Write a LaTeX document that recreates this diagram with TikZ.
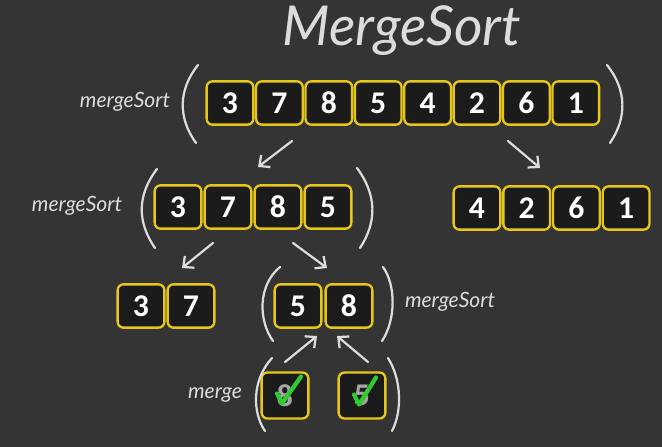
\documentclass[tikz,border=0pt]{standalone}
\usepackage{fontspec}
\usetikzlibrary{arrows.meta,calc,positioning}
\newfontfamily\digitfont{Carlito}
\newfontfamily\chalkfont{Lato}
\definecolor{board}{HTML}{343434}
\definecolor{chalk}{HTML}{DCDCDC}
\definecolor{cellfill}{HTML}{1B1B1B}
\definecolor{celledge}{HTML}{E6C619}
\definecolor{tick}{HTML}{2FCB2F}

\begin{document}
\begin{tikzpicture}[x=0.03cm,y=-0.03cm,
  cell/.style={draw=celledge,fill=cellfill,line width=2pt,rounded corners=5pt,
    minimum width=1.40cm,minimum height=1.30cm,inner sep=0pt,text=white,
    font=\digitfont\bfseries\fontsize{27}{27}\selectfont},
  chalk/.style={draw=chalk,line width=1.9pt,line cap=round},
  arr/.style={chalk,-{Straight Barb[length=7pt,width=13pt]}},
  lbl/.style={text=chalk,font=\chalkfont\itshape\fontsize{18}{18}\selectfont}]
  \fill[board] (0,0) rectangle (662,447);
  \useasboundingbox (0,0) rectangle (662,447);

  % title
  \node[anchor=base,inner sep=0pt,text=chalk,font=\chalkfont\itshape\fontsize{47}{47}\selectfont] (title) at (402,45) {MergeSort};

  % rows of cells
  \foreach \v [count=\i] in {3,7,8,5,4,2,6,1}
    \node[cell] (t\i) at ({230+49.4*(\i-1)},103) {\v};
  \foreach \v [count=\i] in {3,7,8,5}
    \node[cell] (l\i) at ({178+50*(\i-1)},207) {\v};
  \foreach \v [count=\i] in {4,2,6,1}
    \node[cell] (r\i) at ({477+49.7*(\i-1)},208) {\v};
  \node[cell] (a1) at (141,306) {3};
  \node[cell] (a2) at (191,306) {7};
  \node[cell] (b1) at (298,306) {5};
  \node[cell] (b2) at (349,306) {8};
  \node[cell,minimum height=1.38cm,text=gray!70] (m1) at (285,395.5) {8};
  \node[cell,minimum height=1.38cm,text=gray!70] (m2) at (362,395.5) {5};

  % ticks
  \draw[tick,line width=3.6pt,line cap=round,line join=round]
    ($(m1.center)+(-8,-2)$) -- ++(5,10) -- ++(19,-27);
  \draw[tick,line width=3.6pt,line cap=round,line join=round]
    ($(m2.center)+(-8,-1)$) -- ++(5,10) -- ++(17,-27);

  % brackets
  \draw[chalk] (198,65) .. controls (178,90) and (178,118) .. (196,143);
  \draw[chalk] (607,65) .. controls (627,90) and (627,118) .. (610,143);
  \draw[chalk] (157,169) .. controls (137,195) and (137,222) .. (155,248);
  \draw[chalk] (357,168) .. controls (377,195) and (377,222) .. (360,248);
  \draw[chalk] (280,267) .. controls (258,285) and (258,320) .. (273,341);
  \draw[chalk] (383,267) .. controls (396,285) and (396,320) .. (382,341);
  \draw[chalk] (272,358) .. controls (252,380) and (252,412) .. (265,431);
  \draw[chalk] (388,358) .. controls (402,380) and (402,412) .. (392,431);

  % labels
  \node[lbl] (lt) at (125,102) {mergeSort};
  \node[lbl] (ll) at (77,206) {mergeSort};
  \node[lbl] (lb) at (450,302) {mergeSort};
  \node[lbl] (lm) at (215,395) {merge};

  % arrows
  \coordinate (p1) at (292,141);
  \coordinate (p2) at (508,141);
  \coordinate (p3) at (213,243);
  \coordinate (p4) at (293,243);
  \coordinate (p5) at (285,362);
  \coordinate (p6) at (368,362);
  \draw[arr] (p1) -- (258,167);
  \draw[arr] (p2) -- (540,168);
  \draw[arr] (p3) -- (182,268);
  \draw[arr] (p4) -- (327,268);
  \draw[arr] (p5) -- (317,336);
  \draw[arr] (p6) -- (337,336);
\end{tikzpicture}
\end{document}
